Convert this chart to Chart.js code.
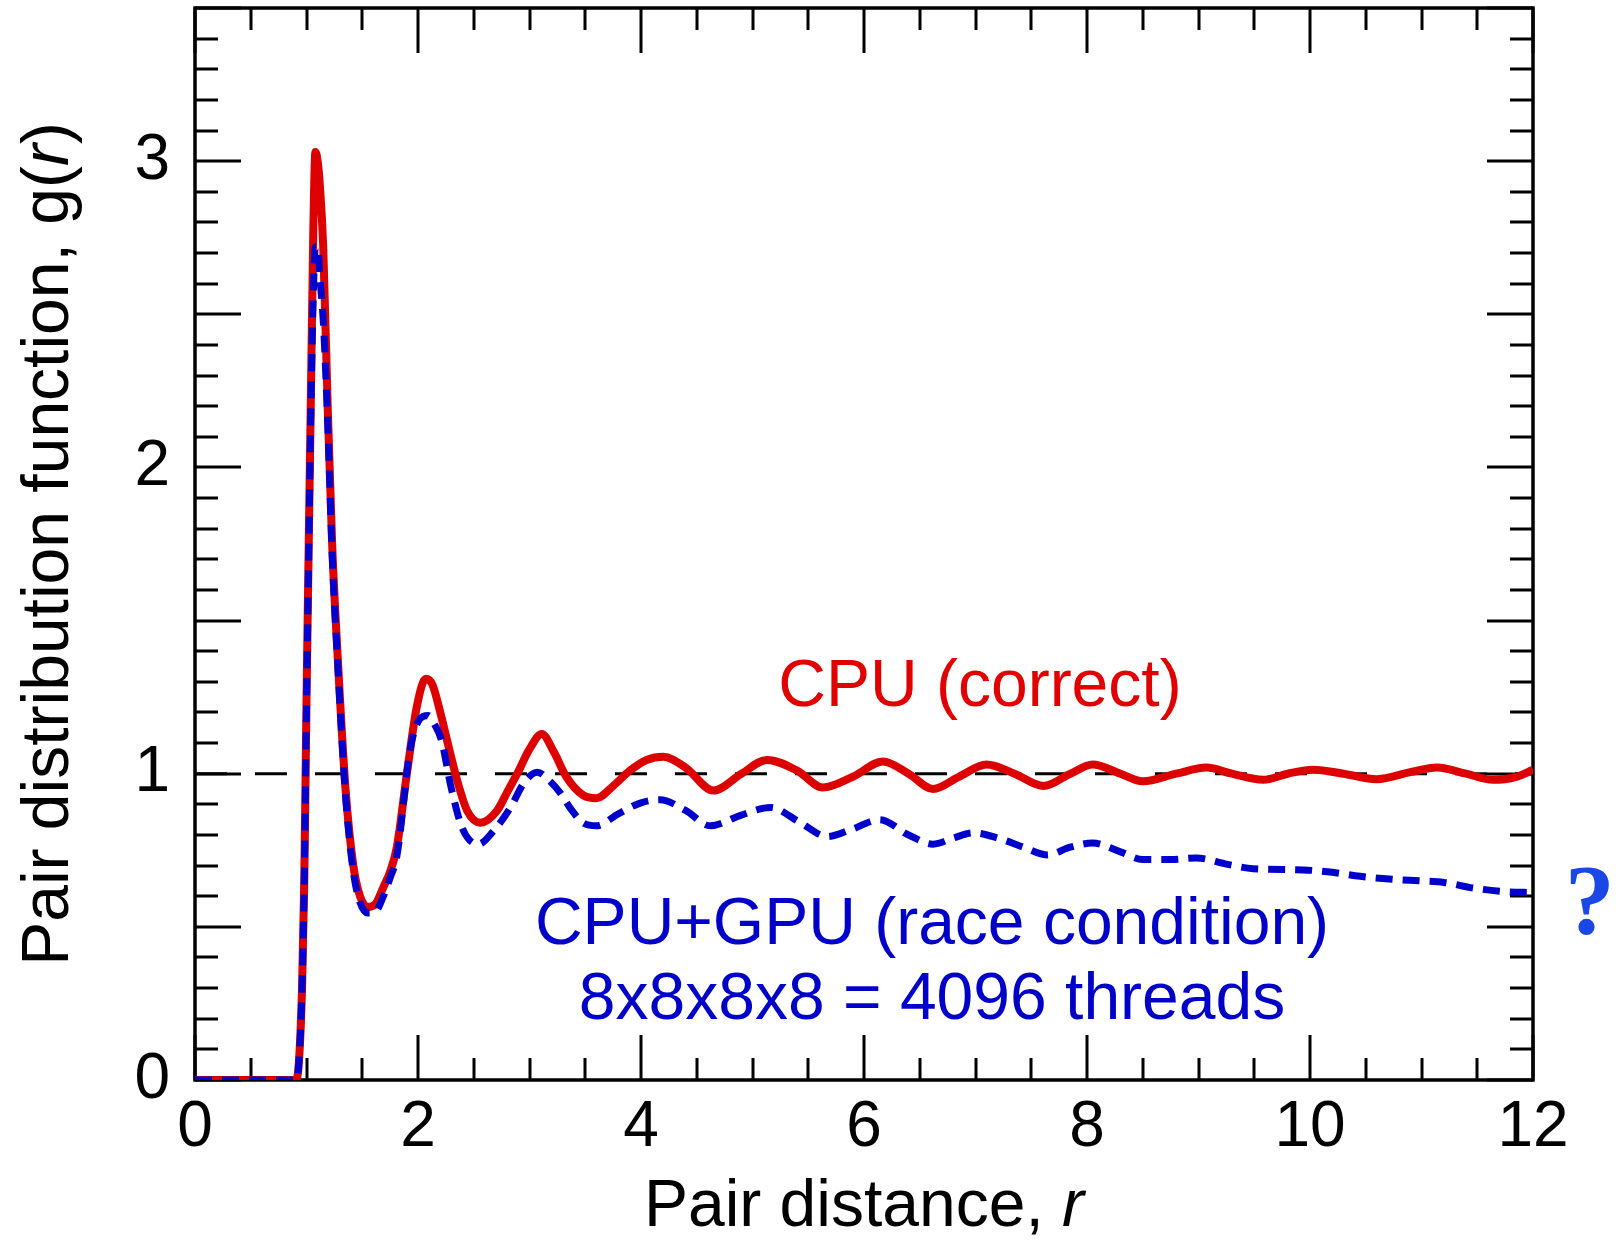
<!DOCTYPE html>
<html>
<head>
<meta charset="utf-8">
<script src="https://cdn.jsdelivr.net/npm/chart.js@4.4.1/dist/chart.umd.min.js"></script>
<style>
  html, body { margin: 0; padding: 0; background: #fff; }
  canvas { display: block; }
</style>
</head>
<body>
<canvas id="canvasGr" width="1617" height="1240"></canvas>
<script>
// pair distance r and g(r) from the CPU run
var rCpu = [0, 0.5, 0.9, 0.93, 0.96, 0.98, 1.0, 1.02, 1.04, 1.06, 1.08, 1.1, 1.12, 1.15, 1.19, 1.23, 1.28, 1.35, 1.42, 1.48,
  1.55, 1.62, 1.69, 1.75, 1.81, 1.9, 1.99, 2.07, 2.13, 2.2, 2.28, 2.35, 2.44, 2.56, 2.71, 2.8, 2.89, 3.0, 3.11, 3.22,
  3.33, 3.48, 3.6, 3.75, 3.9, 4.05, 4.2, 4.4, 4.65, 4.9, 5.13, 5.4, 5.63, 5.9, 6.17, 6.4, 6.62, 6.85, 7.1, 7.35,
  7.61, 7.85, 8.05, 8.3, 8.5, 8.8, 9.07, 9.3, 9.58, 9.8, 10.03, 10.3, 10.6, 10.9, 11.14, 11.4, 11.64, 11.85, 12];
var gCpu = [0, 0, 0, 0.05, 0.3, 0.65, 1.24, 1.75, 2.25, 2.75, 3.03, 3.0, 2.92, 2.72, 2.2, 1.75, 1.38, 0.95, 0.7, 0.6,
  0.565, 0.575, 0.63, 0.68, 0.76, 1.0, 1.22, 1.31, 1.29, 1.2, 1.08, 0.98, 0.88, 0.84, 0.88, 0.94, 1.0, 1.08, 1.13, 1.07,
  0.99, 0.93, 0.92, 0.96, 1.01, 1.045, 1.055, 1.02, 0.945, 1.0, 1.045, 1.01, 0.955, 0.99, 1.04, 1.0, 0.95, 0.99, 1.03, 1.0,
  0.96, 1.0, 1.03, 1.0, 0.975, 1.0, 1.02, 1.0, 0.98, 1.0, 1.013, 1.0, 0.982, 1.005, 1.02, 1.0, 0.98, 0.99, 1.013];

// same quantity from the CPU+GPU run (race condition)
var rGpu = [0, 0.5, 0.9, 0.93, 0.96, 0.98, 1.0, 1.02, 1.04, 1.06, 1.08, 1.1, 1.12, 1.15, 1.19, 1.23, 1.28, 1.35, 1.42, 1.48,
  1.55, 1.62, 1.69, 1.75, 1.81, 1.93, 2.02, 2.09, 2.15, 2.21, 2.3, 2.4, 2.54, 2.67, 2.83, 2.95, 3.07, 3.17, 3.27, 3.38,
  3.48, 3.6, 3.8, 4.0, 4.17, 4.4, 4.62, 4.9, 5.16, 5.43, 5.67, 5.9, 6.14, 6.4, 6.62, 6.8, 6.98, 7.2, 7.43, 7.64,
  7.85, 8.05, 8.3, 8.5, 8.75, 8.98, 9.25, 9.49, 9.94, 10.2, 10.45, 10.75, 10.99, 11.2, 11.46, 11.75, 12];
var gGpu = [0, 0, 0, 0.05, 0.3, 0.65, 1.22, 1.72, 2.2, 2.55, 2.72, 2.72, 2.62, 2.48, 2.15, 1.72, 1.36, 0.93, 0.68, 0.58,
  0.545, 0.55, 0.6, 0.66, 0.73, 1.08, 1.18, 1.19, 1.16, 1.11, 0.95, 0.82, 0.77, 0.81, 0.89, 0.97, 1.005, 0.98, 0.94, 0.88,
  0.84, 0.83, 0.87, 0.905, 0.915, 0.88, 0.83, 0.865, 0.89, 0.84, 0.795, 0.82, 0.85, 0.8, 0.77, 0.79, 0.807, 0.79, 0.76, 0.735,
  0.76, 0.774, 0.745, 0.72, 0.72, 0.725, 0.705, 0.69, 0.686, 0.678, 0.665, 0.655, 0.65, 0.645, 0.627, 0.615, 0.612];

// ideal-gas reference g(r) = 1
var rRef = [0, 12];
var gRef = [1, 1];

var xTickLabels = [0, 2, 4, 6, 8, 10, 12];
var yTickLabels = [0, 1, 2, 3];

var fontFace = "'Liberation Sans', Arial, sans-serif";

function toPoints(xs, ys)
{
  var pts = [];
  for(var i = 0; i < xs.length; i++)
  {
    pts.push({x: xs[i], y: ys[i]});
  }
  return pts;
}

// frame plus inward tick marks on all four sides
var framePlugin = {
  id: 'frameTicks',
  beforeDatasetsDraw: function(chart)
  {
    var c = chart.ctx;
    var a = chart.chartArea;
    var xs = chart.scales.x;
    var ys = chart.scales.y;
    c.save();
    c.strokeStyle = '#000';
    c.lineWidth = 3;
    c.lineCap = 'butt';
    c.beginPath();
    for(var k = 0; k <= 24; k++)
    {
      var xv = k * 0.5;
      var px = Math.round(xs.getPixelForValue(xv));
      var len = (k % 4 === 0) ? 45 : 22;
      c.moveTo(px, a.bottom); c.lineTo(px, a.bottom - len);
      c.moveTo(px, a.top); c.lineTo(px, a.top + len);
    }
    for(var j = 0; j <= 35; j++)
    {
      var yv = j / 10;
      var py = Math.round(ys.getPixelForValue(yv));
      var ylen = (j % 5 === 0) ? 46 : 23;
      c.moveTo(a.left, py); c.lineTo(a.left + ylen, py);
      c.moveTo(a.right, py); c.lineTo(a.right - ylen, py);
    }
    c.stroke();
    c.lineWidth = 3.5;
    c.strokeRect(a.left, a.top, a.right - a.left, a.bottom - a.top);
    c.restore();
  },
  afterDraw: function(chart)
  {
    var c = chart.ctx;
    var a = chart.chartArea;
    var xs = chart.scales.x;
    var ys = chart.scales.y;
    c.save();

    // axis titles, with the italic variable
    c.fillStyle = '#000';
    c.textBaseline = 'alphabetic';
    var t1 = 'Pair distance, ';
    c.font = '66px ' + fontFace;
    var w1 = c.measureText(t1).width;
    c.font = 'italic 66px ' + fontFace;
    var w2 = c.measureText('r').width;
    var cx = (a.left + a.right) / 2;
    var x0 = cx - (w1 + w2) / 2;
    c.font = '66px ' + fontFace;
    c.textAlign = 'left';
    c.fillText(t1, x0, 1226);
    c.font = 'italic 66px ' + fontFace;
    c.fillText('r', x0 + w1, 1226);

    c.translate(68, (a.top + a.bottom) / 2);
    c.rotate(-Math.PI / 2);
    var y1 = 'Pair distribution function, g(';
    c.font = '66px ' + fontFace;
    var v1 = c.measureText(y1).width;
    var v3 = c.measureText(')').width;
    c.font = 'italic 66px ' + fontFace;
    var v2 = c.measureText('r').width;
    var s0 = -(v1 + v2 + v3) / 2;
    c.font = '66px ' + fontFace;
    c.fillText(y1, s0, 0);
    c.font = 'italic 66px ' + fontFace;
    c.fillText('r', s0 + v1, 0);
    c.font = '66px ' + fontFace;
    c.fillText(')', s0 + v1 + v2, 0);
    c.restore();

    // curve labels
    c.save();
    c.textAlign = 'center';
    c.textBaseline = 'alphabetic';
    c.font = '66px ' + fontFace;
    c.fillStyle = '#e00000';
    c.fillText('CPU (correct)', xs.getPixelForValue(7.04), ys.getPixelForValue(1.222));
    c.fillStyle = '#0000c8';
    c.fillText('CPU+GPU (race condition)', xs.getPixelForValue(6.61), ys.getPixelForValue(0.444));
    c.fillText('8x8x8x8 = 4096 threads', xs.getPixelForValue(6.61), ys.getPixelForValue(0.2));
    c.font = 'bold 100px "Liberation Serif", "Times New Roman", serif';
    c.fillStyle = '#1a47e6';
    c.fillText('?', xs.getPixelForValue(12.51), ys.getPixelForValue(0.48));
    c.restore();
  }
};

function createGraph()
{
  var ctx = document.getElementById('canvasGr').getContext('2d');

  window.grChart = new Chart(ctx, {
    type: 'scatter',
    data: {
      datasets: [
        {
          label: 'CPU+GPU (race condition)',
          data: toPoints(rGpu, gGpu),
          showLine: true,
          borderColor: '#0000cc',
          borderWidth: 7,
          borderDash: [17, 10],
          borderCapStyle: 'butt',
          pointRadius: 0,
          cubicInterpolationMode: 'monotone',
          order: 0
        },
        {
          label: 'CPU (correct)',
          data: toPoints(rCpu, gCpu),
          showLine: true,
          borderColor: '#dc0000',
          borderWidth: 8,
          pointRadius: 0,
          cubicInterpolationMode: 'monotone',
          order: 1
        },
        {
          label: 'g = 1',
          data: toPoints(rRef, gRef),
          showLine: true,
          borderColor: '#000',
          borderWidth: 3,
          borderDash: [32, 28],
          pointRadius: 0,
          order: 2
        }
      ]
    },
    options: {
      responsive: false,
      animation: false,
      layout: { padding: { top: 8, right: 84, left: 0, bottom: 0 } },
      plugins: {
        legend: { display: false },
        tooltip: { enabled: false }
      },
      scales: {
        x: {
          type: 'linear',
          min: 0,
          max: 12,
          grid: { display: false, drawTicks: false },
          border: { display: false },
          ticks: {
            stepSize: 2,
            padding: 10,
            color: '#000',
            font: { family: fontFace, size: 64 }
          },
          afterBuildTicks: function(scale) {
            scale.ticks = xTickLabels.map(function(v) { return {value: v}; });
          },
          afterFit: function(scale) {
            scale.height = 160;
            scale.paddingLeft = 0; scale.paddingRight = 0;
          }
        },
        y: {
          type: 'linear',
          min: 0,
          max: 3.5,
          grid: { display: false, drawTicks: false },
          border: { display: false },
          ticks: {
            padding: 25,
            color: '#000',
            font: { family: fontFace, size: 64 }
          },
          afterBuildTicks: function(scale) {
            scale.ticks = yTickLabels.map(function(v) { return {value: v}; });
          },
          afterFit: function(scale) {
            scale.width = 195;
            scale.paddingTop = 0; scale.paddingBottom = 0;
          }
        }
      }
    },
    plugins: [framePlugin]
  });
}

createGraph();
</script>
</body>
</html>
